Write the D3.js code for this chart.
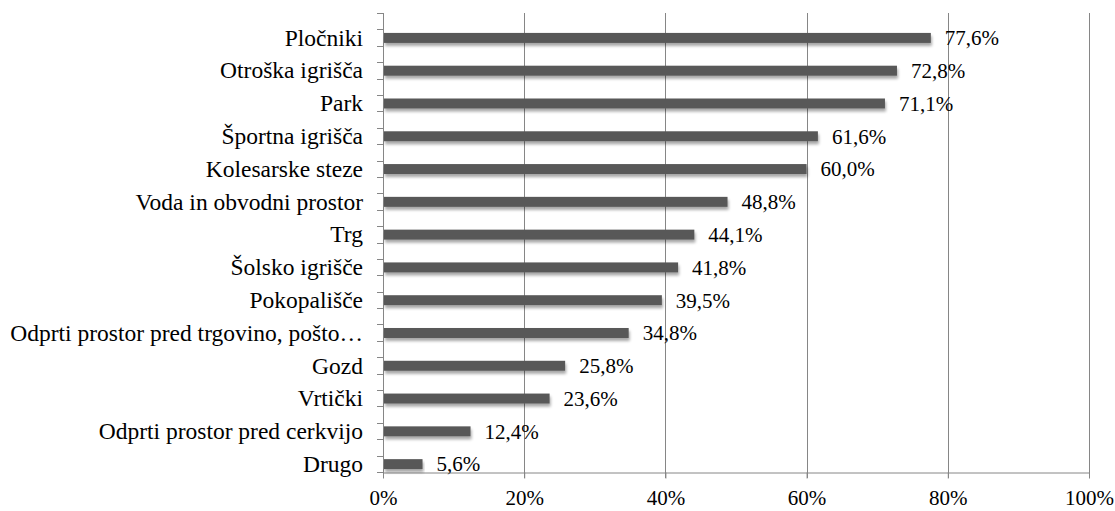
<!DOCTYPE html>
<html><head><meta charset="utf-8">
<script src="https://cdn.jsdelivr.net/npm/d3@7"></script>
<style>body{margin:0;background:#fff;}svg{display:block;} text{font-family:"Liberation Serif","Times New Roman",Tinos,"DejaVu Serif",serif;}</style>
</head><body>
<script>
const categories = ["Pločniki","Otroška igrišča","Park","Športna igrišča","Kolesarske steze","Voda in obvodni prostor","Trg","Šolsko igrišče","Pokopališče","Odprti prostor pred trgovino, pošto…","Gozd","Vrtički","Odprti prostor pred cerkvijo","Drugo"];
const values = [77.6,72.8,71.1,61.6,60.0,48.8,44.1,41.8,39.5,34.8,25.8,23.6,12.4,5.6];
const valueLabels = ["77,6%","72,8%","71,1%","61,6%","60,0%","48,8%","44,1%","41,8%","39,5%","34,8%","25,8%","23,6%","12,4%","5,6%"];
const xTicks = [0,20,40,60,80,100];

const W=1115,H=511;
const pL=383,pR=1089,pT=13,pB=472;
const svg=d3.select("body").append("svg").attr("width",W).attr("height",H);
const defs=svg.append("defs");
const f=defs.append("filter").attr("id","sh").attr("x","-5%").attr("y","-50%").attr("width","110%").attr("height","250%");
f.append("feGaussianBlur").attr("in","SourceAlpha").attr("stdDeviation",1.6).attr("result","b");
f.append("feOffset").attr("in","b").attr("dx",1).attr("dy",3).attr("result","o");
f.append("feComponentTransfer").attr("in","o").attr("result","o2").append("feFuncA").attr("type","linear").attr("slope",0.35);
const m=f.append("feMerge");m.append("feMergeNode").attr("in","o2");m.append("feMergeNode").attr("in","SourceGraphic");

const x=d3.scaleLinear().domain([0,100]).range([pL,pR]);
const y=d3.scaleBand().domain(categories).range([pT,pB]);
const bw=y.bandwidth();
const fs=21, fsCat=23.5;

// gridlines
svg.append("g").selectAll("line").data(xTicks.slice(1)).join("line")
  .attr("x1",d=>Math.round(x(d))+0.5).attr("x2",d=>Math.round(x(d))+0.5)
  .attr("y1",pT).attr("y2",pB+6).attr("stroke","#868686").attr("stroke-width",1);

// x axis
const xa=svg.append("g").attr("transform",`translate(0,${pB+0.5})`)
  .call(d3.axisBottom(x).tickValues(xTicks).tickFormat(d=>d+"%").tickSize(6).tickSizeOuter(0));
xa.attr("font-family",null).attr("font-size",null);
xa.select(".domain").attr("stroke","#868686");
xa.selectAll(".tick line").attr("stroke","#868686");
xa.selectAll(".tick text").attr("font-size",fs).attr("fill","#000").attr("dy","1.1em");

// y axis ticks at half bands
const yTickPos=d3.range(0,categories.length*2+1).map(i=>pT+i*bw/2);
svg.append("g").selectAll("line").data(yTickPos).join("line")
  .attr("x1",pL-6).attr("x2",pL).attr("y1",d=>Math.round(d)+0.5).attr("y2",d=>Math.round(d)+0.5)
  .attr("stroke","#868686");
svg.append("line").attr("x1",pL+0.5).attr("x2",pL+0.5).attr("y1",pT).attr("y2",pB+6).attr("stroke","#868686");

// category labels
svg.append("g").selectAll("text").data(categories).join("text")
  .attr("x",pL-20).attr("y",d=>y(d)+bw*0.76).attr("dy","0.33em")
  .attr("text-anchor","end").attr("font-size",fsCat).attr("fill","#000").text(d=>d);

// bars
const bh=10;
svg.append("g").selectAll("rect").data(values).join("rect")
  .attr("x",pL+1).attr("y",(d,i)=>y(categories[i])+bw*0.76-bh/2)
  .attr("width",d=>x(d)-pL-1).attr("height",bh).attr("fill","#595959").attr("filter","url(#sh)");

// value labels
svg.append("g").selectAll("text").data(values).join("text")
  .attr("x",d=>x(d)+14).attr("y",(d,i)=>y(categories[i])+bw*0.76).attr("dy","0.35em")
  .attr("font-size",fs).attr("fill","#000").text((d,i)=>valueLabels[i]);
</script>
</body></html>
